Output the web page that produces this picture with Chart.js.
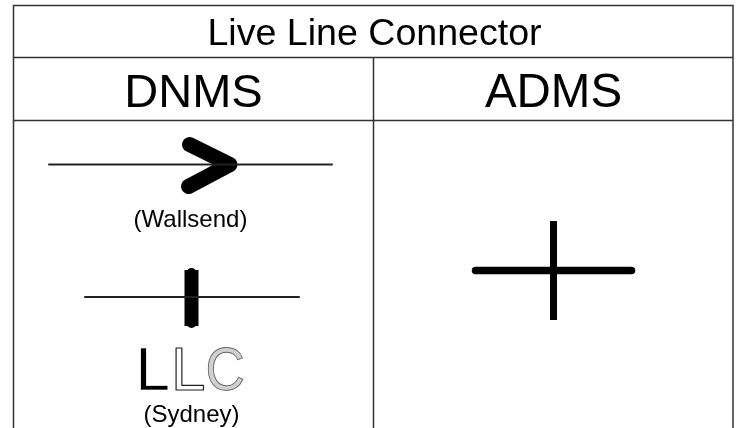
<!DOCTYPE html>
<html>
<head>
<meta charset="utf-8">
<style>
html, body { margin: 0; padding: 0; background: #fff; overflow: hidden; }
canvas { display: block; }
</style>
<script src="https://cdn.jsdelivr.net/npm/chart.js@4"></script>
</head>
<body>
<canvas id="chart" width="737" height="428"></canvas>
<script>
// table rules, as [x, y] ends
var ruleOuter = [[13.5, 428], [13.5, 5.5], [733, 5.5], [733, 428]];
var ruleTitle = [[13.5, 57.5], [733, 57.5]];
var ruleHeader = [[13.5, 120.5], [733, 120.5]];
var ruleColumn = [[373.5, 57.5], [373.5, 428]];

// symbols
var wallsendWire = [[49, 164.5], [332, 164.5]];
var wallsendArrow = [[189.5, 144.5], [230, 164.5], [188.5, 186.5]];
var sydneyWire = [[85, 297], [299, 297]];
var sydneyBarBody = [[191.5, 270], [191.5, 326]];
var sydneyBarEnds = [[191.5, 273], [191.5, 323]];
var admsWire = [[475.5, 270.5], [631.5, 270.5]];
var admsPost = [[553.5, 221], [553.5, 320]];

// text
var titleText = "Live Line Connector";
var columnNames = ["DNMS", "ADMS"];
var captions = ["(Wallsend)", "(Sydney)"];
var symbolLetters = ["L", "L", "C"];

function toPoints(pairs) {
	return pairs.map(function (p) { return { x: p[0], y: p[1] }; });
}

function lineSet(pairs, width, color) {
	return {
		data: toPoints(pairs),
		showLine: true,
		borderColor: color,
		borderWidth: width,
		borderCapStyle: "round",
		borderJoinStyle: "round",
		pointRadius: 0,
		tension: 0,
		clip: false
	};
}

// vertical lines get retraced by the line element, so the join has to stay flat too
function squareSet(pairs, width, color) {
	var set = lineSet(pairs, width, color);
	set.borderCapStyle = "butt";
	set.borderJoinStyle = "miter";
	return set;
}

var tableText = {
	id: "tableText",
	afterDatasetsDraw: function (chart) {
		var ctx = chart.ctx;
		var sx = chart.scales.x;
		var sy = chart.scales.y;

		function label(text, x, y, size) {
			ctx.font = size + 'px "Liberation Sans"';
			ctx.fillText(text, sx.getPixelForValue(x), sy.getPixelForValue(y));
		}

		ctx.save();
		ctx.fillStyle = "#000";
		ctx.textAlign = "center";
		ctx.textBaseline = "alphabetic";
		label(titleText, 374.5, 45, 37.6);
		label(columnNames[0], 193.5, 106.5, 47);
		label(columnNames[1], 553.5, 106.5, 47.5);
		label(captions[0], 190.5, 227, 24);
		label(captions[1], 191.5, 422, 24);

		// the LLC symbol: solid, outlined, then pale letter
		ctx.textAlign = "left";
		ctx.font = '62px "Liberation Sans"';
		ctx.lineJoin = "round";
		var base = sy.getPixelForValue(389.5);
		ctx.fillText(symbolLetters[0], sx.getPixelForValue(135.5), base);
		ctx.strokeStyle = "#fff";
		ctx.lineWidth = 0.7;
		ctx.strokeText(symbolLetters[0], sx.getPixelForValue(135.5), base);
		ctx.strokeStyle = "#222";
		ctx.lineWidth = 1.2;
		ctx.strokeText(symbolLetters[1], sx.getPixelForValue(171), base);
		ctx.translate(sx.getPixelForValue(205.5), base);
		ctx.scale(0.88, 1);
		ctx.fillStyle = "#d0d0d0";
		ctx.strokeStyle = "#666";
		ctx.lineWidth = 1;
		ctx.fillText(symbolLetters[2], 0, 0);
		ctx.strokeText(symbolLetters[2], 0, 0);
		ctx.restore();
	}
};

var chart = new Chart(document.getElementById("chart"), {
	type: "scatter",
	data: {
		datasets: [
			squareSet(ruleOuter, 1.5, "#333"),
			squareSet(ruleTitle, 1.5, "#333"),
			squareSet(ruleHeader, 1.5, "#333"),
			squareSet(ruleColumn, 1.5, "#333"),
			lineSet(wallsendWire, 2, "#222"),
			lineSet(wallsendArrow, 15, "#000"),
			lineSet(sydneyWire, 2, "#222"),
			squareSet(sydneyBarBody, 14, "#000"),
			lineSet(sydneyBarEnds, 10, "#000"),
			lineSet(admsWire, 7.5, "#000"),
			squareSet(admsPost, 7, "#000")
		]
	},
	options: {
		responsive: false,
		animation: false,
		layout: { padding: 0 },
		scales: {
			x: { type: "linear", display: false, min: 0, max: 737 },
			y: { type: "linear", display: false, min: 0, max: 428, reverse: true }
		},
		plugins: {
			legend: { display: false },
			title: { display: false },
			tooltip: { enabled: false }
		}
	},
	plugins: [tableText]
});
</script>
</body>
</html>
